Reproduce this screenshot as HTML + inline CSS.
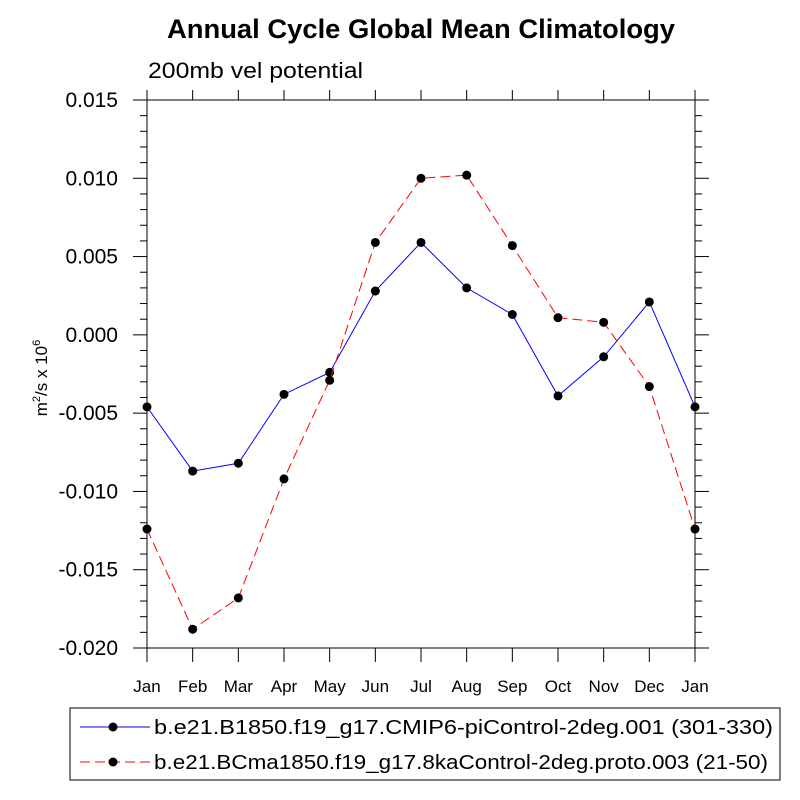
<!DOCTYPE html>
<html><head><meta charset="utf-8"><style>
body{margin:0;background:#fff}
svg{display:block;font-family:"Liberation Sans",sans-serif}
</style></head><body>
<svg id="c" width="800" height="800">
<text x="421" y="38" text-anchor="middle" font-size="27" font-weight="bold" textLength="508" lengthAdjust="spacingAndGlyphs">Annual Cycle Global Mean Climatology</text>
<text x="148" y="78" font-size="22" textLength="215" lengthAdjust="spacingAndGlyphs">200mb vel potential</text>
<text transform="translate(47,378) rotate(-90)" text-anchor="middle" font-size="17">m<tspan dy="-7" font-size="11">2</tspan><tspan dy="7">/s x 10</tspan><tspan dy="-7" font-size="11">6</tspan></text>
<g id="axes"></g><g id="series"></g>
<rect x="70" y="708" width="710" height="72" fill="none" stroke="#000"/>
<g>
<line x1="80" y1="727" x2="150" y2="727" stroke="#00f"/><circle cx="113" cy="727" r="4.5"/>
<text x="154" y="734" font-size="20" textLength="619" lengthAdjust="spacingAndGlyphs">b.e21.B1850.f19_g17.CMIP6-piControl-2deg.001 (301-330)</text></g>
<g>
<line x1="80" y1="762" x2="150" y2="762" stroke="#f00" stroke-dasharray="10,5"/><circle cx="113" cy="762" r="4.5"/>
<text x="154" y="769" font-size="20" textLength="614" lengthAdjust="spacingAndGlyphs">b.e21.BCma1850.f19_g17.8kaControl-2deg.proto.003 (21-50)</text></g>
</svg>
<script>
const months=["Jan","Feb","Mar","Apr","May","Jun","Jul","Aug","Sep","Oct","Nov","Dec","Jan"];
const blueVals=[-0.0046,-0.0087,-0.0082,-0.0038,-0.0024,0.0028,0.0059,0.0030,0.0013,-0.0039,-0.0014,0.0021,-0.0046];
const redVals=[-0.0124,-0.0188,-0.0168,-0.0092,-0.0029,0.0059,0.0100,0.0102,0.0057,0.0011,0.0008,-0.0033,-0.0124];
const yTicks=[0.015,0.010,0.005,0.000,-0.005,-0.010,-0.015,-0.020];
const yTickLabels=["0.015","0.010","0.005","0.000","-0.005","-0.010","-0.015","-0.020"];
const L=147,R=695,T=100,B=648,ymin=-0.020,ymax=0.015;
const X=i=>L+(R-L)*i/(months.length-1);
const Y=v=>B-(v-ymin)/(ymax-ymin)*(B-T);
const NS="http://www.w3.org/2000/svg";
function mk(t,a,p){const e=document.createElementNS(NS,t);for(const k in a)e.setAttribute(k,a[k]);p.appendChild(e);return e;}
const ax=document.getElementById('axes');
const fr=mk('rect',{x:L,y:T,width:R-L,height:B-T,fill:'none',stroke:'#000','stroke-width':1},ax);


for(let v=ymin;v<=ymax+1e-9;v+=0.001){
 const y=Y(v),maj=Math.abs(Math.round(v*1000))%5===0;const len=maj?14:7;
 mk('line',{x1:L-len,y1:y,x2:L,y2:y,stroke:'#000'},ax);
 mk('line',{x1:R,y1:y,x2:R+len,y2:y,stroke:'#000'},ax);
}
yTicks.forEach((v,i)=>{const t=mk('text',{x:L-29,y:Y(v)+7,'text-anchor':'end','font-size':21},ax);t.textContent=yTickLabels[i];
 
 });
months.forEach((m,i)=>{const x=X(i);
 mk('line',{x1:x,y1:B,x2:x,y2:B+14,stroke:'#000'},ax);
 mk('line',{x1:x,y1:T-10,x2:x,y2:T,stroke:'#000'},ax);
 const t=mk('text',{x:x,y:B+44,'text-anchor':'middle','font-size':17},ax);t.textContent=m;
 
 });
const sg=document.getElementById('series');
function draw(vals,color,dash,name){
 const g=mk('g',{},sg);
 
 
 mk('polyline',{points:vals.map((v,i)=>X(i)+','+Y(v)).join(' '),fill:'none',stroke:color,'stroke-dasharray':dash},g);
 vals.forEach((v,i)=>{const c=mk('circle',{cx:X(i),cy:Y(v),r:4.5,fill:'#000'},g);
  
  });
}
draw(blueVals,'#00f','none','series-cmip6-picontrol');
draw(redVals,'#f00','10,5','series-8ka-control');
</script>
</body></html>
